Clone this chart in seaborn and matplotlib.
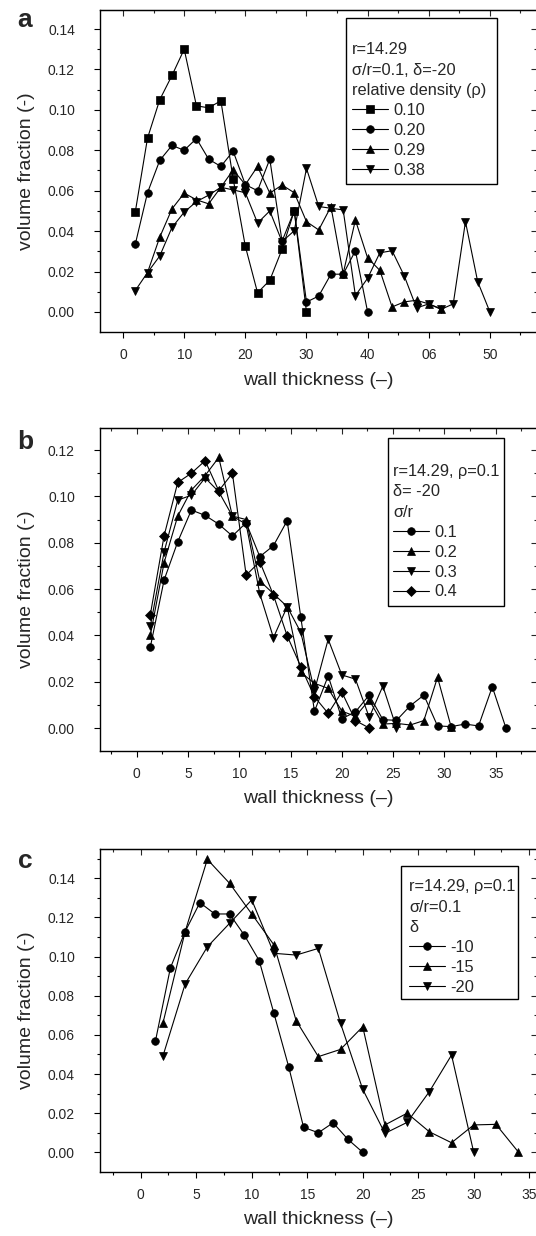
import numpy as np
import pandas as pd
import matplotlib
matplotlib.use("Agg")
import matplotlib.pyplot as plt
from matplotlib.ticker import MultipleLocator
from matplotlib.patches import Rectangle
import seaborn as sns

# ---- panel a : different relative density ----
a_x_010 = [2, 4, 6, 8, 10, 12, 14, 16, 18, 20, 22, 24, 26, 28, 30]
a_y_010 = [0.0495, 0.086, 0.105, 0.117, 0.130, 0.102, 0.101, 0.1045, 0.066, 0.0325,
           0.0095, 0.0157, 0.031, 0.050, 0.0]
a_x_020 = [2, 4, 6, 8, 10, 12, 14, 16, 18, 20, 22, 24, 26, 28, 30, 32, 34, 36, 38, 40]
a_y_020 = [0.0335, 0.059, 0.075, 0.0824, 0.080, 0.0858, 0.0756, 0.072, 0.0796, 0.063,
           0.060, 0.0756, 0.035, 0.050, 0.0049, 0.0079, 0.0187, 0.0187, 0.0303, 0.0]
a_x_029 = [4, 6, 8, 10, 12, 14, 16, 18, 20, 22, 24, 26, 28, 30, 32, 34, 36, 38, 40,
           42, 44, 46, 48, 50, 52]
a_y_029 = [0.0195, 0.037, 0.051, 0.0588, 0.0555, 0.0535, 0.0617, 0.0703, 0.063, 0.072,
           0.0588, 0.0628, 0.059, 0.0447, 0.0406, 0.0521, 0.019, 0.0455, 0.0267, 0.0206,
           0.0025, 0.005, 0.0058, 0.004, 0.0016]
a_x_038 = [2, 4, 6, 8, 10, 12, 14, 16, 18, 20, 22, 24, 26, 28, 30, 32, 34, 36, 38, 40,
           42, 44, 46, 48, 50, 52, 54, 56, 58, 60]
a_y_038 = [0.0106, 0.0195, 0.0277, 0.0418, 0.0494, 0.0546, 0.0578, 0.0617, 0.0604, 0.059,
           0.044, 0.050, 0.0348, 0.0402, 0.071, 0.0522, 0.0513, 0.0505, 0.0081, 0.0167,
           0.0293, 0.0303, 0.0178, 0.002, 0.004, 0.0013, 0.004, 0.0447, 0.015, 0.0]
a_xticks = [0, 10, 20, 30, 40, 50, 60]
a_xticklabels = ["0", "10", "20", "30", "40", "06", "50"]

# ---- panel b : different sigma/r ----
b_x = [1.33, 2.67, 4.0, 5.33, 6.67, 8.0, 9.33, 10.67, 12.0, 13.33, 14.67, 16.0, 17.33,
       18.67, 20.0, 21.33, 22.67, 24.0, 25.33, 26.67, 28.0, 29.33, 30.67, 32.0, 33.33,
       34.67, 36.0]
b_y_01 = [0.035, 0.0639, 0.0804, 0.0941, 0.0918, 0.088, 0.0829, 0.0886, 0.074, 0.0787,
          0.0895, 0.0478, 0.0072, 0.0225, 0.004, 0.007, 0.0142, 0.0036, 0.0033, 0.0096,
          0.0142, 0.0009, 0.0006, 0.0017, 0.0009, 0.0178, 0.0]
b_y_02 = [0.040, 0.0714, 0.0915, 0.1027, 0.109, 0.1168, 0.0915, 0.090, 0.0635, 0.058,
          0.0524, 0.024, 0.0193, 0.0171, 0.0073, 0.005, 0.0121, 0.0017, 0.002, 0.0013,
          0.0032, 0.0219, 0.0003]
b_y_03 = [0.044, 0.076, 0.0984, 0.1005, 0.108, 0.102, 0.0915, 0.088, 0.058, 0.039,
          0.0524, 0.0413, 0.0161, 0.0383, 0.0229, 0.0211, 0.0046, 0.0181, 0.0]
b_y_04 = [0.049, 0.083, 0.106, 0.110, 0.1154, 0.1024, 0.110, 0.066, 0.0718, 0.0574,
          0.0398, 0.0265, 0.0135, 0.0063, 0.0155, 0.0032, 0.0]

# ---- panel c : different delta ----
c_x_10 = [1.33, 2.67, 4.0, 5.33, 6.67, 8.0, 9.33, 10.67, 12.0, 13.33, 14.67, 16.0,
          17.33, 18.67, 20.0]
c_y_10 = [0.057, 0.0942, 0.1128, 0.1276, 0.1218, 0.1218, 0.111, 0.098, 0.071, 0.0437,
          0.0128, 0.010, 0.0151, 0.0066, 0.0]
c_x_15 = [2, 4, 6, 8, 10, 12, 14, 16, 18, 20, 22, 24, 26, 28, 30, 32, 34]
c_y_15 = [0.066, 0.1128, 0.1497, 0.1375, 0.1218, 0.106, 0.0673, 0.0489, 0.0526, 0.0642,
          0.014, 0.020, 0.0105, 0.0049, 0.014, 0.0143, 0.0003]
c_x_20 = [2, 4, 6, 8, 10, 12, 14, 16, 18, 20, 22, 24, 26, 28, 30]
c_y_20 = [0.0492, 0.086, 0.105, 0.117, 0.129, 0.1017, 0.1008, 0.1042, 0.0659, 0.0322,
          0.0097, 0.0153, 0.031, 0.0497, 0.0]

sns.set_style("ticks")
plt.rcParams['font.family'] = ['Liberation Sans', 'DejaVu Sans']
plt.rcParams['font.size'] = 10

W, H = 536, 1236
fig = plt.figure(figsize=(W / 100, H / 100), dpi=100)

def make_axes(top_px, bot_px):
    return fig.add_axes([100 / W, 1 - bot_px / H, 437 / W, (bot_px - top_px) / H])

ax_a = make_axes(10, 332)
ax_b = make_axes(428.3, 750.7)
ax_c = make_axes(849, 1171.7)

mk = dict(color='black', lw=0.8, markersize=5.5, markeredgecolor='black',
          markeredgewidth=0.5)

def draw(ax, x, y, marker, label):
    sns.lineplot(x=x, y=y, ax=ax, marker=marker, label=label, **mk)

draw(ax_a, a_x_010, a_y_010, 's', '0.10')
draw(ax_a, a_x_020, a_y_020, 'o', '0.20')
draw(ax_a, a_x_029, a_y_029, '^', '0.29')
draw(ax_a, a_x_038, a_y_038, 'v', '0.38')

draw(ax_b, b_x[:len(b_y_01)], b_y_01, 'o', '0.1')
draw(ax_b, b_x[:len(b_y_02)], b_y_02, '^', '0.2')
draw(ax_b, b_x[:len(b_y_03)], b_y_03, 'v', '0.3')
draw(ax_b, b_x[:len(b_y_04)], b_y_04, 'D', '0.4')

draw(ax_c, c_x_10, c_y_10, 'o', '-10')
draw(ax_c, c_x_15, c_y_15, '^', '-15')
draw(ax_c, c_x_20, c_y_20, 'v', '-20')


def style_axes(ax, xlim, ylim, xmajor, xminor, ymax_tick):
    ax.set_xlim(*xlim)
    ax.set_ylim(*ylim)
    ax.xaxis.set_major_locator(MultipleLocator(xmajor))
    ax.xaxis.set_minor_locator(MultipleLocator(xminor))
    yt = np.round(np.arange(0, ymax_tick + 0.001, 0.02), 2)
    ax.set_yticks(yt)
    ax.set_yticklabels([f"{v:.2f}" for v in yt])
    ax.yaxis.set_minor_locator(MultipleLocator(0.01))
    ax.tick_params(which='major', direction='out', length=4, width=0.8,
                   labelsize=10, color='black')
    ax.tick_params(which='minor', direction='out', length=2.5, width=0.8, color='black')
    ax.tick_params(axis='x', which='major', pad=7.5)
    ax.tick_params(axis='y', which='major', pad=14)
    for s in ax.spines.values():
        s.set_linewidth(1.0)
        s.set_color('black')
    ax.set_xlabel("wall thickness (–)", fontsize=14, labelpad=7)
    ax.set_ylabel("volume fraction (-)", fontsize=14, labelpad=9)
    # mirrored ticks pointing inward on top and right
    top = ax.secondary_xaxis('top')
    top.xaxis.set_major_locator(MultipleLocator(xmajor))
    top.xaxis.set_minor_locator(MultipleLocator(xminor))
    top.tick_params(which='major', direction='in', length=4, width=0.8, labeltop=False)
    top.tick_params(which='minor', direction='in', length=2.5, width=0.8)
    right = ax.secondary_yaxis('right')
    right.set_yticks(yt)
    right.yaxis.set_minor_locator(MultipleLocator(0.01))
    right.tick_params(which='major', direction='in', length=4, width=0.8, labelright=False)
    right.tick_params(which='minor', direction='in', length=2.5, width=0.8)


style_axes(ax_a, (-3.77, 67.7), (-0.0099, 0.1494), 10, 5, 0.14)
ax_a.set_xticks(a_xticks)
ax_a.set_xticklabels(a_xticklabels)
style_axes(ax_b, (-3.58, 39.03), (-0.0098, 0.1294), 5, 2.5, 0.12)
style_axes(ax_c, (-3.67, 35.7), (-0.0099, 0.155), 5, 2.5, 0.14)


def add_legend(ax, title, anchor, box):
    handles, labels = ax.get_legend_handles_labels()
    leg = ax.legend(handles, labels, title=title, loc='upper left',
                    bbox_to_anchor=anchor, borderaxespad=0, borderpad=0,
                    fontsize=11.8, title_fontsize=11.8, alignment='left',
                    frameon=False, handlelength=2.2, handletextpad=0.3,
                    labelspacing=0.3)
    leg.get_title().set_linespacing(1.47)
    x0, y0, x1, y1 = box
    ax.add_patch(Rectangle((x0, y1), x1 - x0, y0 - y1, transform=ax.transAxes,
                           fill=False, edgecolor='black', lw=1.0, zorder=5,
                           clip_on=False))


add_legend(ax_a, "r=14.29\nσ/r=0.1, δ=-20\nrelative density (ρ)", (0.5767, 0.9006),
           (0.5622, 0.9742, 0.9078, 0.4596))
add_legend(ax_b, "r=14.29, ρ=0.1\nδ= -20\nσ/r", (0.671, 0.8908),
           (0.6584, 0.969, 0.9252, 0.4498))
add_legend(ax_c, "r=14.29, ρ=0.1\nσ/r=0.1\nδ", (0.7078, 0.907),
           (0.6881, 0.9483, 0.9572, 0.5352))

for letter, ypx in [("a", 20), ("b", 442), ("c", 861)]:
    fig.text(25 / W, 1 - ypx / H, letter, fontsize=19, fontweight='bold',
             ha='center', va='center')

fig.savefig("out.png", dpi=100)
